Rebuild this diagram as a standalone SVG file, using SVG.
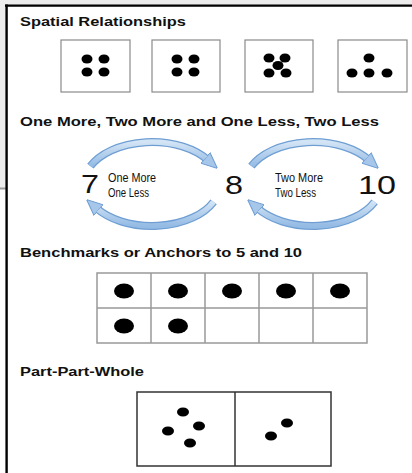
<svg xmlns="http://www.w3.org/2000/svg" width="412" height="473" viewBox="0 0 412 473">
<style>
.title{font-family:"Liberation Sans",Arial,sans-serif;font-weight:bold;font-size:13px;fill:#111}
.num{font-family:"Liberation Sans",Arial,sans-serif;font-size:26px;fill:#111}
.lbl{font-family:"Liberation Sans",Arial,sans-serif;font-size:13px;fill:#111}
.sbox{fill:#fff;stroke:#8a8a8a;stroke-width:1.2}
.grid{fill:none;stroke:#999;stroke-width:1.5}
.ppw{fill:none;stroke:#333;stroke-width:1.5}
.dot{fill:#000}
.arcO{fill:none;stroke:#6e9ed3;stroke-width:8}
.arcI{fill:none;stroke:url(#blue);stroke-width:5.5}
</style>
<defs>
<linearGradient id="blue" x1="0" y1="0" x2="0" y2="1">
<stop offset="0" stop-color="#d3e4f5"/>
<stop offset="1" stop-color="#94bbe4"/>
</linearGradient>
<marker id="ah" viewBox="0 0 16 16" refX="3" refY="8" markerWidth="16" markerHeight="16" markerUnits="userSpaceOnUse" orient="auto">
<path d="M0,1 L16,8 L0,15 Z" fill="#a6c6ea" stroke="#6e9ed3" stroke-width="1"/>
</marker>
</defs>
<rect x="0" y="0" width="412" height="473" fill="#fff"/>
<rect x="0" y="0" width="412" height="5" fill="#ececec"/>
<rect x="0" y="0" width="6" height="188" fill="#ececec"/>
<rect x="0" y="187.5" width="6" height="2" fill="#9a9a9a"/>
<line x1="5" y1="5.6" x2="412" y2="5.6" stroke="#000" stroke-width="2.4"/>
<line x1="6.6" y1="4.5" x2="6.6" y2="473" stroke="#000" stroke-width="2.4"/>

<g id="title-spatial"><text class="title" x="20" y="26" textLength="166" lengthAdjust="spacingAndGlyphs">Spatial Relationships</text></g>
<g id="box1"><rect class="sbox" x="61" y="40" width="69" height="52"/>
<ellipse class="dot" cx="87" cy="59" rx="5.5" ry="4.5"/><ellipse class="dot" cx="104" cy="59" rx="5.5" ry="4.5"/>
<ellipse class="dot" cx="87" cy="72" rx="5.5" ry="4.5"/><ellipse class="dot" cx="104" cy="72" rx="5.5" ry="4.5"/></g>
<g id="box2"><rect class="sbox" x="152" y="40" width="68" height="52"/>
<ellipse class="dot" cx="177" cy="59" rx="5.5" ry="4.5"/><ellipse class="dot" cx="194" cy="59" rx="5.5" ry="4.5"/>
<ellipse class="dot" cx="177" cy="72" rx="5.5" ry="4.5"/><ellipse class="dot" cx="194" cy="72" rx="5.5" ry="4.5"/></g>
<g id="box3"><rect class="sbox" x="245" y="40" width="68" height="52"/>
<ellipse class="dot" cx="269" cy="58" rx="5.5" ry="4.5"/><ellipse class="dot" cx="285" cy="58" rx="5.5" ry="4.5"/>
<ellipse class="dot" cx="278" cy="65.5" rx="5.5" ry="4.5"/>
<ellipse class="dot" cx="269" cy="73" rx="5.5" ry="4.5"/><ellipse class="dot" cx="286" cy="73" rx="5.5" ry="4.5"/></g>
<g id="box4"><rect class="sbox" x="338" y="40" width="69" height="52"/>
<ellipse class="dot" cx="369" cy="58" rx="5.5" ry="4.5"/>
<ellipse class="dot" cx="352" cy="73" rx="5.5" ry="4.5"/><ellipse class="dot" cx="369" cy="73" rx="5.5" ry="4.5"/><ellipse class="dot" cx="387" cy="73" rx="5.5" ry="4.5"/></g>

<g id="title-more"><text class="title" x="20" y="126" textLength="359" lengthAdjust="spacingAndGlyphs">One More, Two More and One Less, Two Less</text></g>
<g id="connectors">
<path class="arcO" d="M90.4,166.2 A68,42 0 0 1 207.7,159.9"/>
<path class="arcI" d="M90.4,166.2 A68,42 0 0 1 207.7,159.9" marker-end="url(#ah)"/>
<path class="arcO" d="M213.6,201.8 A68,42 0 0 1 96.3,208.1"/>
<path class="arcI" d="M213.6,201.8 A68,42 0 0 1 96.3,208.1" marker-end="url(#ah)"/>
<path class="arcO" d="M251.4,166.2 A68,42 0 0 1 368.7,159.9"/>
<path class="arcI" d="M251.4,166.2 A68,42 0 0 1 368.7,159.9" marker-end="url(#ah)"/>
<path class="arcO" d="M374.6,201.8 A68,42 0 0 1 257.3,208.1"/>
<path class="arcI" d="M374.6,201.8 A68,42 0 0 1 257.3,208.1" marker-end="url(#ah)"/>
</g>
<g id="n7"><text class="num" x="81" y="193" textLength="18" lengthAdjust="spacingAndGlyphs">7</text></g>
<g id="lbl-one"><text class="lbl" x="108" y="182" textLength="48" lengthAdjust="spacingAndGlyphs">One More</text>
<text class="lbl" x="108" y="197" textLength="41" lengthAdjust="spacingAndGlyphs">One Less</text></g>
<g id="n8"><text class="num" x="225" y="194" textLength="18" lengthAdjust="spacingAndGlyphs">8</text></g>
<g id="lbl-two"><text class="lbl" x="275" y="182" textLength="48" lengthAdjust="spacingAndGlyphs">Two More</text>
<text class="lbl" x="275" y="197" textLength="41" lengthAdjust="spacingAndGlyphs">Two Less</text></g>
<g id="n10"><text class="num" x="358" y="194" textLength="38" lengthAdjust="spacingAndGlyphs">10</text></g>

<g id="title-bench"><text class="title" x="20" y="257" textLength="282" lengthAdjust="spacingAndGlyphs">Benchmarks or Anchors to 5 and 10</text></g>
<g id="tenframe">
<rect class="grid" x="97" y="273" width="270" height="70"/>
<path class="grid" d="M97,308H367M151,273V343M205,273V343M259,273V343M313,273V343"/>
<ellipse class="dot" cx="124" cy="291" rx="10" ry="7.5"/><ellipse class="dot" cx="178" cy="291" rx="10" ry="7.5"/>
<ellipse class="dot" cx="232" cy="291" rx="10" ry="7.5"/><ellipse class="dot" cx="286" cy="291" rx="10" ry="7.5"/>
<ellipse class="dot" cx="340" cy="291" rx="10" ry="7.5"/>
<ellipse class="dot" cx="124" cy="326" rx="10" ry="7.5"/><ellipse class="dot" cx="178" cy="326" rx="10" ry="7.5"/>
</g>

<g id="title-ppw"><text class="title" x="20" y="376" textLength="124" lengthAdjust="spacingAndGlyphs">Part-Part-Whole</text></g>
<g id="ppw">
<rect class="ppw" x="137" y="392" width="194" height="74"/>
<line class="ppw" x1="235" y1="392" x2="235" y2="466"/>
<ellipse class="dot" cx="183" cy="412" rx="6" ry="4.5"/><ellipse class="dot" cx="199" cy="426" rx="6" ry="4.5"/>
<ellipse class="dot" cx="168" cy="431" rx="6" ry="4.5"/><ellipse class="dot" cx="190" cy="443" rx="6" ry="4.5"/>
<ellipse class="dot" cx="287" cy="423" rx="6" ry="4.5"/><ellipse class="dot" cx="271" cy="436" rx="6" ry="4.5"/>
</g>
</svg>
